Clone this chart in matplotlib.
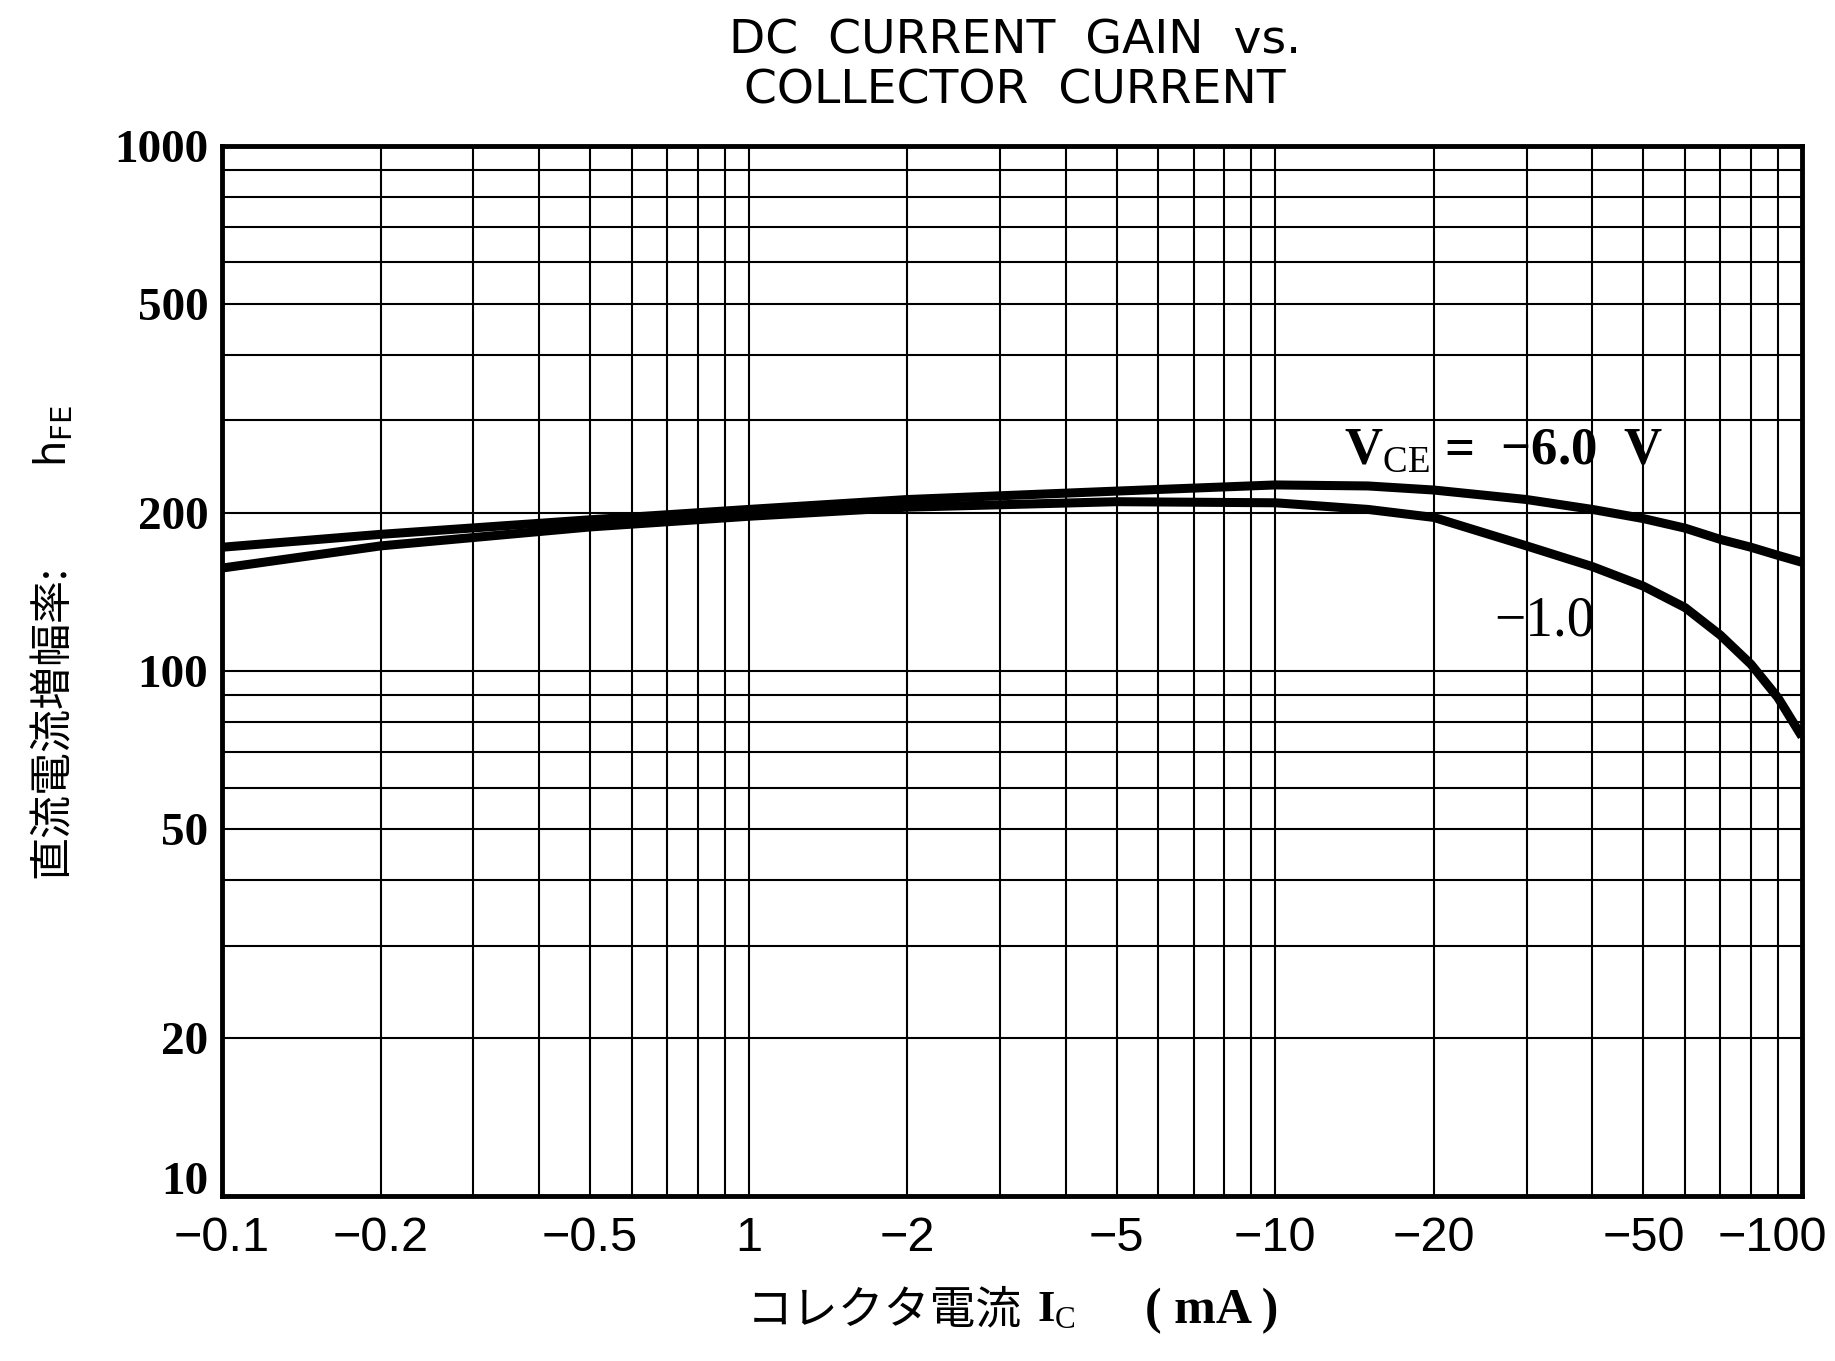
import numpy as np
import matplotlib
matplotlib.use("Agg")
import matplotlib.pyplot as plt
from matplotlib.ticker import FixedLocator, NullFormatter, LogLocator
from matplotlib.transforms import ScaledTranslation

plt.rcParams["mathtext.fontset"] = "custom"
plt.rcParams["mathtext.rm"] = "Liberation Serif"
plt.rcParams["mathtext.sf"] = "DejaVu Sans"

# ---- data (collector current in mA, magnitude) ----
ic_ma = [0.1, 0.2, 0.5, 1, 2, 5, 10, 15, 20, 30, 40, 50, 60, 70, 80, 90, 100]
hfe_6v = [172, 182, 194, 203, 212, 220, 226, 225, 221, 212, 203, 195, 187, 178, 172, 166, 161]
hfe_1v = [157, 173, 188, 197, 205, 210, 209, 203, 196, 173, 158, 145, 132, 117, 103, 89, 75]

x_ticks = [0.1, 0.2, 0.5, 1, 2, 5, 10, 20, 50, 100]
x_labels = ["\u22120.1", "\u22120.2", "\u22120.5", "1", "\u22122", "\u22125",
            "\u221210", "\u221220", "\u221250", "\u2212100"]
y_ticks = [10, 20, 50, 100, 200, 500, 1000]
y_labels = ["10", "20", "50", "100", "200", "500", "1000"]

fig = plt.figure(figsize=(18.35, 13.61), dpi=100)
ax = fig.add_axes([0.121, 0.121, 0.861, 0.772])

ax.set_xscale("log")
ax.set_yscale("log")
ax.set_xlim(0.1, 100)
ax.set_ylim(10, 1000)

# ---- grid ----
ax.xaxis.set_minor_locator(LogLocator(base=10, subs=np.arange(2, 10)))
ax.yaxis.set_minor_locator(LogLocator(base=10, subs=np.arange(2, 10)))
ax.xaxis.set_minor_formatter(NullFormatter())
ax.yaxis.set_minor_formatter(NullFormatter())
ax.grid(True, which="both", color="black", linewidth=1.5)
ax.set_axisbelow(True)
for sp in ax.spines.values():
    sp.set_linewidth(3.5)

# ---- curves ----
ax.plot(ic_ma, hfe_6v, color="black", linewidth=6.5, solid_capstyle="butt")
ax.plot(ic_ma, hfe_1v, color="black", linewidth=6.5, solid_capstyle="butt")

ax.text(13.5, 262, "V$_{\\mathrm{CE}}$ =  \u22126.0  V",
        fontsize=38, family="Liberation Serif", fontweight="bold",
        ha="left", va="center")
ax.text(26, 124, "\u22121.0", fontsize=40, family="Liberation Serif",
        ha="left", va="center")

# ---- ticks ----
ax.xaxis.set_major_locator(FixedLocator(x_ticks))
ax.set_xticklabels(x_labels, fontsize=35, family="Liberation Sans")
ax.yaxis.set_major_locator(FixedLocator(y_ticks))
ax.set_yticklabels(y_labels, fontsize=34, family="Liberation Serif", fontweight="bold")
ax.tick_params(which="both", length=0)
ax.tick_params(axis="x", pad=14)
ax.tick_params(axis="y", pad=10)

# edge labels nudged inwards, as in the original
fig.canvas.draw()
last = ax.get_xticklabels()[-1]
last.set_transform(last.get_transform() + ScaledTranslation(-0.3, 0, fig.dpi_scale_trans))
first_y = ax.get_yticklabels()[0]
first_y.set_transform(first_y.get_transform() + ScaledTranslation(0, 0.18, fig.dpi_scale_trans))

# ---- titles and axis labels ----
fig.text(0.553, 0.970, "DC  CURRENT  GAIN  vs.", fontsize=34, ha="center", va="center",
         family="DejaVu Sans")
fig.text(0.553, 0.933, "COLLECTOR  CURRENT", fontsize=34, ha="center", va="center",
         family="DejaVu Sans")

fig.text(0.029, 0.470, "直流電流増幅率:", rotation=90, fontsize=31, ha="center", va="center",
         family=["Noto Sans CJK JP", "DejaVu Sans"])
fig.text(0.029, 0.68, r"h$_{\mathsf{FE}}$", rotation=90, fontsize=30, ha="center", va="center",
         family="DejaVu Sans")

fig.text(0.557, 0.037, "コレクタ電流", fontsize=33, ha="right", va="center",
         family=["Noto Sans CJK JP", "DejaVu Sans"])
fig.text(0.565, 0.037, r"I$_{\mathrm{C}}$", fontsize=32, ha="left", va="center",
         family="Liberation Serif", fontweight="bold")
fig.text(0.624, 0.037, "( mA )", fontsize=36, ha="left", va="center",
         family="Liberation Serif", fontweight="bold")

fig.savefig("out.png", dpi=100, facecolor="white")
